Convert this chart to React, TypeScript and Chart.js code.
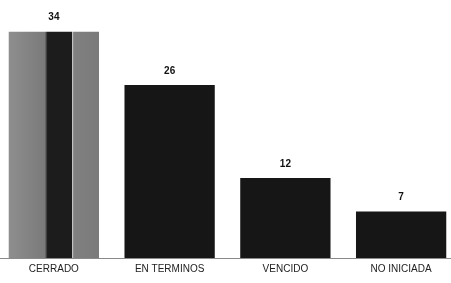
import React, { useEffect, useRef } from "react";
import { Chart, registerables } from "chart.js";

Chart.register(...registerables);

const categories = ["CERRADO", "EN TERMINOS", "VENCIDO", "NO INICIADA"];
const values = [34, 26, 12, 7];

const valueLabels = {
  id: "valueLabels",
  afterDatasetsDraw(chart: any) {
    const ctx = chart.ctx;
    const meta = chart.getDatasetMeta(0);
    ctx.save();
    ctx.font = "bold 10px 'Liberation Sans', Arial, sans-serif";
    ctx.fillStyle = "#111";
    ctx.textAlign = "center";
    ctx.textBaseline = "bottom";
    meta.data.forEach((el: any, i: number) => {
      ctx.fillText(String(values[i]), el.x, el.y - 9);
    });
    ctx.restore();
  },
};

export default function App() {
  const ref = useRef<HTMLCanvasElement>(null);
  useEffect(() => {
    if (!ref.current) return;
    const chart = new Chart(ref.current, {
      type: "bar",
      data: {
        labels: categories,
        datasets: [
          {
            data: values,
            barPercentage: 0.78,
            categoryPercentage: 1,
            borderWidth: 0,
            backgroundColor: (c: any) => {
              if (c.dataIndex !== 0) return "#161616";
              const ch = c.chart;
              const xs = ch.scales.x;
              if (!ch.chartArea || !xs) return "#8a8a8a";
              const cx = xs.getPixelForValue(0);
              const hw = (ch.chartArea.width / categories.length) * 0.78 / 2;
              const g = ch.ctx.createLinearGradient(cx - hw, 0, cx + hw, 0);
              g.addColorStop(0, "#8e8e8e");
              g.addColorStop(0.4, "#7a7a7a");
              g.addColorStop(0.43, "#1c1c1c");
              g.addColorStop(0.7, "#1c1c1c");
              g.addColorStop(0.705, "#c8c8c8");
              g.addColorStop(0.72, "#808080");
              g.addColorStop(1, "#7a7a7a");
              return g;
            },
          },
        ],
      },
      options: {
        animation: false,
        responsive: true,
        maintainAspectRatio: false,
        layout: { padding: { top: 5, bottom: 3, left: 0, right: 0 } },
        plugins: {
          legend: { display: false },
          tooltip: { enabled: false },
        },
        scales: {
          x: {
            grid: { display: false, drawTicks: false },
            border: { display: true, color: "#8a8a8a", width: 1 },
            ticks: {
              padding: 5,
              color: "#222",
              font: { family: "'Liberation Sans', Arial, sans-serif", size: 10 },
            },
          },
          y: {
            display: false,
            min: 0,
            max: 38,
          },
        },
      },
      plugins: [valueLabels],
    });
    return () => chart.destroy();
  }, []);
  return (
    <div style={{ position: "fixed", left: -4, top: 0, width: 463, height: 283, background: "#fff" }}>
      <canvas ref={ref} />
    </div>
  );
}
